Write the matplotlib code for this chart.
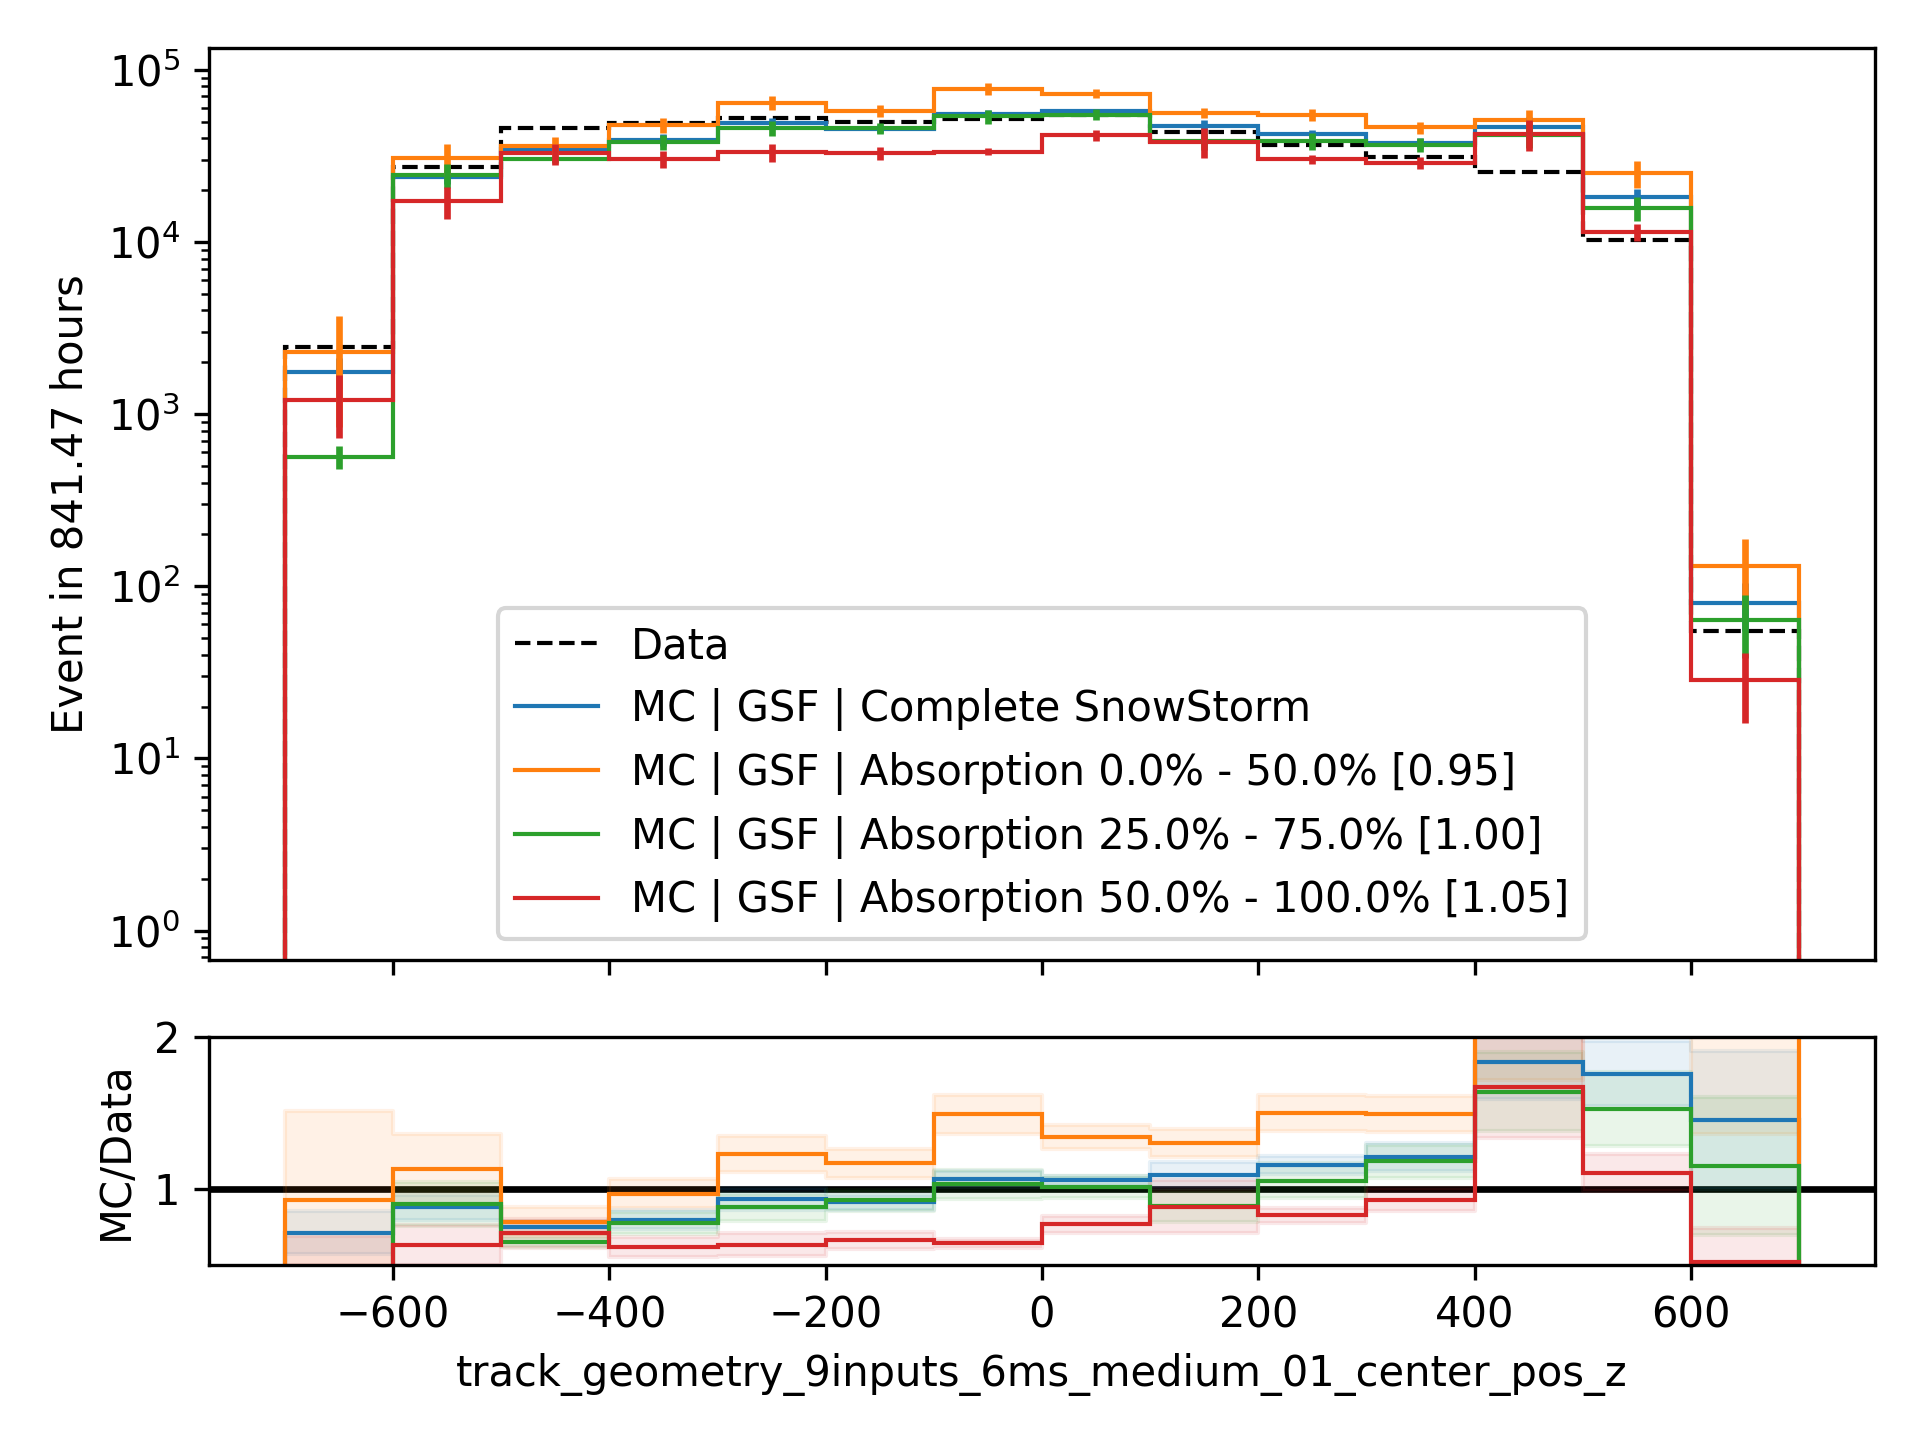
import numpy as np
import matplotlib
matplotlib.use("Agg")
import matplotlib.pyplot as plt
from matplotlib.lines import Line2D

# ---- data ----
bin_edges = [-700, -600, -500, -400, -300, -200, -100, 0, 100, 200, 300, 400, 500, 600, 700]

data_counts = [2460, 27200, 46100, 49000, 52300, 49500, 52000, 54200, 43300, 36600, 31000, 25300, 10300, 55]

mc_complete = [1754, 23900, 34500, 39100, 48800, 45100, 55400, 57200, 47300, 42400, 37500, 46500, 18100, 80]
mc_complete_err = [350, 2200, 1800, 3000, 3700, 2500, 2600, 1600, 3700, 2100, 2800, 6300, 2200, 25]

mc_abs_0_50 = [2280, 30800, 36200, 47500, 64300, 57800, 77500, 72600, 56300, 54900, 46200, 51000, 25000, 131]
mc_abs_0_50_err = [1440, 6300, 4300, 4700, 6200, 4700, 6600, 4300, 4000, 4400, 3700, 7500, 4400, 56]

mc_abs_25_75 = [564, 24500, 30100, 38000, 45900, 45800, 53600, 54800, 38300, 38600, 36600, 41500, 15700, 63.4]
mc_abs_25_75_err = [86, 3900, 1500, 3700, 4500, 3400, 5000, 4000, 4300, 4300, 3300, 6600, 2500, 25]

mc_abs_50_100 = [1210, 17200, 32600, 30200, 33100, 32700, 33400, 41600, 38200, 30200, 28800, 42300, 11400, 28.5]
mc_abs_50_100_err = [480, 3550, 4500, 3300, 3900, 2800, 1500, 3000, 7600, 1800, 2300, 8500, 1250, 12.5]

labels = [
    "Data",
    "MC | GSF | Complete SnowStorm",
    "MC | GSF | Absorption 0.0% - 50.0% [0.95]",
    "MC | GSF | Absorption 25.0% - 75.0% [1.00]",
    "MC | GSF | Absorption 50.0% - 100.0% [1.05]",
]
xlabel = "track_geometry_9inputs_6ms_medium_01_center_pos_z"
ylabel_top = "Event in 841.47 hours"
ylabel_bottom = "MC/Data"

# ---- plotting ----
edges = np.array(bin_edges, dtype=float)
centers = 0.5 * (edges[:-1] + edges[1:])
data = np.array(data_counts, dtype=float)
mc_sets = [
    (np.array(mc_complete, float), np.array(mc_complete_err, float), "#1f77b4"),
    (np.array(mc_abs_0_50, float), np.array(mc_abs_0_50_err, float), "#ff7f0e"),
    (np.array(mc_abs_25_75, float), np.array(mc_abs_25_75_err, float), "#2ca02c"),
    (np.array(mc_abs_50_100, float), np.array(mc_abs_50_100_err, float), "#d62728"),
]

fig = plt.figure(figsize=(6.4, 4.8), dpi=300)
gs = fig.add_gridspec(2, 1, height_ratios=[4, 1], hspace=0.135,
                      left=0.109, right=0.9764, top=0.9668, bottom=0.1216)
ax = fig.add_subplot(gs[0])
ax2 = fig.add_subplot(gs[1], sharex=ax)

lw = 1.0
ax.set_yscale("log")
ax.stairs(data, edges, baseline=1e-3, color="k", ls="--", lw=lw)
for vals, errs, c in mc_sets:
    ax.stairs(vals, edges, baseline=1e-3, color=c, lw=lw)
    ax.errorbar(centers, vals, yerr=errs, fmt="none", ecolor=c, elinewidth=1.6)

ax.set_ylim(0.675, 1.34e5)
ax.set_xlim(-770, 770)
ax.set_ylabel(ylabel_top)
ax.tick_params(labelbottom=False)

handles = [Line2D([], [], color="k", ls="--", lw=lw)] + \
          [Line2D([], [], color=c, lw=lw) for _, _, c in mc_sets]
ax.legend(handles, labels, loc="lower center")

# ratio panel
ax2.axhline(1.0, color="k", lw=1.6, zorder=1)
for vals, errs, c in mc_sets:
    ratio = vals / data
    rerr = errs / data
    lo = np.append(ratio - rerr, (ratio - rerr)[-1])
    hi = np.append(ratio + rerr, (ratio + rerr)[-1])
    ax2.fill_between(edges, lo, hi, step="post", color=c, alpha=0.1, zorder=1)
for vals, errs, c in mc_sets:
    ax2.stairs(vals / data, edges, baseline=0, color=c, lw=lw, zorder=2)

ax2.set_ylim(0.5, 2.0)
ax2.set_yticks([1, 2])
ax2.set_yticklabels(["1", "2"])
ax2.set_ylabel(ylabel_bottom)
ax2.set_xlabel(xlabel)
ax2.set_xlim(-770, 770)

fig.savefig("out.png", dpi=300)
